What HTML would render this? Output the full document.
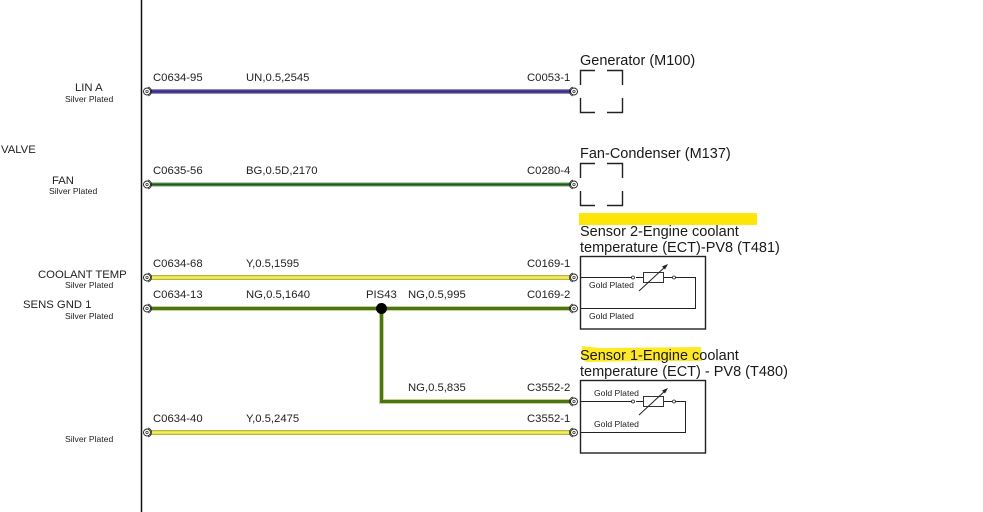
<!DOCTYPE html>
<html>
<head>
<meta charset="utf-8">
<style>
html,body{margin:0;padding:0;background:#fff;width:983px;height:512px;overflow:hidden}
svg{display:block}
text{font-family:"Liberation Sans",sans-serif;fill:#222}
.l{font-size:11.3px}
.s{font-size:8.6px}
.n{font-size:11.3px}
.t{font-size:14.5px;fill:#1a1a1a}
.c{fill:#fff;stroke:#222;stroke-width:.9}
.d{fill:none;stroke:#222;stroke-width:.7}
.b{fill:none;stroke:#222;stroke-width:1.4}
</style>
</head>
<body>
<svg width="983" height="512" viewBox="0 0 983 512" xmlns="http://www.w3.org/2000/svg">
<rect x="579" y="213" width="178" height="12" fill="#ffe60a"/>
<path d="M582 346 Q590 347 600 348 L701 347 L702 361 L640 361 L586 362 L581 358 Z" fill="#ffe927"/>
<line x1="141.500" y1="0" x2="141.500" y2="512" stroke="#111" stroke-width="1.500"/>

<!-- wires -->
<line x1="150" y1="91.500" x2="571" y2="91.500" stroke="#6f64a8" stroke-width="4.500"/>
<line x1="150" y1="91.500" x2="571" y2="91.500" stroke="#3f2a86" stroke-width="2.200"/>
<line x1="150" y1="184.500" x2="571" y2="184.500" stroke="#8fb088" stroke-width="4.200"/>
<line x1="150" y1="184.500" x2="571" y2="184.500" stroke="#175f17" stroke-width="2.200"/>
<line x1="150" y1="277.500" x2="571" y2="277.500" stroke="#b8b63a" stroke-width="5"/>
<line x1="150" y1="277.500" x2="571" y2="277.500" stroke="#f3ef62" stroke-width="2.400"/>
<line x1="150" y1="308.500" x2="571" y2="308.500" stroke="#c8d48a" stroke-width="5"/>
<line x1="150" y1="308.500" x2="571" y2="308.500" stroke="#4a7418" stroke-width="3"/>
<path d="M381.500 308 V401.500 H571" fill="none" stroke="#c8d48a" stroke-width="5"/>
<path d="M381.500 308 V401.500 H571" fill="none" stroke="#4a7418" stroke-width="3"/>
<line x1="150" y1="432.500" x2="571" y2="432.500" stroke="#b8b63a" stroke-width="5"/>
<line x1="150" y1="432.500" x2="571" y2="432.500" stroke="#f3ef62" stroke-width="2.400"/>
<circle cx="381.500" cy="308.500" r="5.500" fill="#000"/>

<!-- left terminals -->
<g>
<path class="d" d="M148 87 A4.600 4.600 0 0 1 148 96"/><circle class="c" cx="147" cy="91.500" r="3.500"/><circle cx="147" cy="91.500" r="1.200" class="d"/>
<path class="d" d="M148 180 A4.600 4.600 0 0 1 148 189"/><circle class="c" cx="147" cy="184.500" r="3.500"/><circle cx="147" cy="184.500" r="1.200" class="d"/>
<path class="d" d="M148 273 A4.600 4.600 0 0 1 148 282"/><circle class="c" cx="147" cy="277.500" r="3.500"/><circle cx="147" cy="277.500" r="1.200" class="d"/>
<path class="d" d="M148 304 A4.600 4.600 0 0 1 148 313"/><circle class="c" cx="147" cy="308.500" r="3.500"/><circle cx="147" cy="308.500" r="1.200" class="d"/>
<path class="d" d="M148 428 A4.600 4.600 0 0 1 148 437"/><circle class="c" cx="147" cy="432.500" r="3.500"/><circle cx="147" cy="432.500" r="1.200" class="d"/>
</g>
<!-- right terminals -->
<g>
<path class="d" d="M573 87 A4.600 4.600 0 0 0 573 96"/><circle class="c" cx="574" cy="91.500" r="3.500"/><circle cx="574" cy="91.500" r="1.200" class="d"/>
<path class="d" d="M573 180 A4.600 4.600 0 0 0 573 189"/><circle class="c" cx="574" cy="184.500" r="3.500"/><circle cx="574" cy="184.500" r="1.200" class="d"/>
<path class="d" d="M573 273 A4.600 4.600 0 0 0 573 282"/><circle class="c" cx="574" cy="277.500" r="3.500"/><circle cx="574" cy="277.500" r="1.200" class="d"/>
<path class="d" d="M573 304 A4.600 4.600 0 0 0 573 313"/><circle class="c" cx="574" cy="308.500" r="3.500"/><circle cx="574" cy="308.500" r="1.200" class="d"/>
<path class="d" d="M573 397 A4.600 4.600 0 0 0 573 406"/><circle class="c" cx="574" cy="401.500" r="3.500"/><circle cx="574" cy="401.500" r="1.200" class="d"/>
<path class="d" d="M573 428 A4.600 4.600 0 0 0 573 437"/><circle class="c" cx="574" cy="432.500" r="3.500"/><circle cx="574" cy="432.500" r="1.200" class="d"/>
</g>

<!-- left labels -->
<text class="l" x="75" y="91">LIN A</text>
<text class="s" x="65" y="102">Silver Plated</text>
<text class="l" x="1" y="153">VALVE</text>
<text class="l" x="52" y="184">FAN</text>
<text class="s" x="49" y="194">Silver Plated</text>
<text class="l" x="38" y="278">COOLANT TEMP</text>
<text class="s" x="65" y="288">Silver Plated</text>
<text class="l" x="23" y="308">SENS GND 1</text>
<text class="s" x="65" y="319">Silver Plated</text>
<text class="s" x="65" y="442">Silver Plated</text>

<!-- wire labels -->
<text class="n" x="153" y="81">C0634-95</text>
<text class="n" x="246" y="81">UN,0.5,2545</text>
<text class="n" x="527" y="81">C0053-1</text>
<text class="n" x="153" y="174">C0635-56</text>
<text class="n" x="246" y="174">BG,0.5D,2170</text>
<text class="n" x="527" y="174">C0280-4</text>
<text class="n" x="153" y="267">C0634-68</text>
<text class="n" x="246" y="267">Y,0.5,1595</text>
<text class="n" x="527" y="267">C0169-1</text>
<text class="n" x="153" y="298">C0634-13</text>
<text class="n" x="246" y="298">NG,0.5,1640</text>
<text class="n" x="366" y="298">PIS43</text>
<text class="n" x="408" y="298">NG,0.5,995</text>
<text class="n" x="527" y="298">C0169-2</text>
<text class="n" x="408" y="391">NG,0.5,835</text>
<text class="n" x="527" y="391">C3552-2</text>
<text class="n" x="153" y="422">C0634-40</text>
<text class="n" x="246" y="422">Y,0.5,2475</text>
<text class="n" x="527" y="422">C3552-1</text>

<!-- titles -->
<text class="t" x="580" y="65">Generator (M100)</text>
<text class="t" x="580" y="158">Fan-Condenser (M137)</text>
<text class="t" x="580" y="236">Sensor 2-Engine coolant</text>
<text class="t" x="580" y="252">temperature (ECT)-PV8 (T481)</text>
<text class="t" x="580" y="360">Sensor 1-Engine coolant</text>
<text class="t" x="580" y="376">temperature (ECT) - PV8 (T480)</text>

<!-- dashed boxes -->
<path class="b" d="M595 70.500 H580.500 V85 M607 70.500 H622.500 V85 M580.500 98 V112.500 H595 M622.500 98 V112.500 H607"/>
<path class="b" d="M595 163.500 H580.500 V178 M607 163.500 H622.500 V178 M580.500 191 V205.500 H595 M622.500 191 V205.500 H607"/>

<!-- sensor 2 -->
<rect x="580.500" y="256.500" width="125" height="72.500" fill="none" stroke="#222" stroke-width="1.400"/>
<path d="M580 277.500 H632 M675 277.500 H695.500 V308.500 H580" fill="none" stroke="#222" stroke-width="1"/>
<line x1="636" y1="277.500" x2="643" y2="277.500" stroke="#222" stroke-width="1"/>
<line x1="664" y1="277.500" x2="672" y2="277.500" stroke="#222" stroke-width="1"/>
<circle cx="633" cy="277.500" r="1.500" fill="#fff" stroke="#222" stroke-width=".8"/>
<circle cx="674" cy="277.500" r="1.500" fill="#fff" stroke="#222" stroke-width=".8"/>
<rect x="643.500" y="272.500" width="20" height="10" fill="none" stroke="#333" stroke-width="1"/>
<line x1="639" y1="291" x2="666" y2="266" stroke="#222" stroke-width="1"/>
<path d="M668 264 L662 266.500 L665 269.500 Z" fill="#222"/>
<text class="s" x="589" y="288">Gold Plated</text>
<text class="s" x="589" y="319">Gold Plated</text>

<!-- sensor 1 -->
<rect x="580.500" y="380.500" width="125" height="72.500" fill="none" stroke="#222" stroke-width="1.400"/>
<path d="M580 401.500 H632 M675 401.500 H685.500 V432.500 H580" fill="none" stroke="#222" stroke-width="1"/>
<line x1="636" y1="401.500" x2="643" y2="401.500" stroke="#222" stroke-width="1"/>
<line x1="664" y1="401.500" x2="672" y2="401.500" stroke="#222" stroke-width="1"/>
<circle cx="633" cy="401.500" r="1.500" fill="#fff" stroke="#222" stroke-width=".8"/>
<circle cx="674" cy="401.500" r="1.500" fill="#fff" stroke="#222" stroke-width=".8"/>
<rect x="643.500" y="396.500" width="20" height="10" fill="none" stroke="#333" stroke-width="1"/>
<line x1="639" y1="415" x2="666" y2="390" stroke="#222" stroke-width="1"/>
<path d="M668 388 L662 390.500 L665 393.500 Z" fill="#222"/>
<text class="s" x="594" y="396">Gold Plated</text>
<text class="s" x="594" y="427">Gold Plated</text>
</svg>
</body>
</html>
